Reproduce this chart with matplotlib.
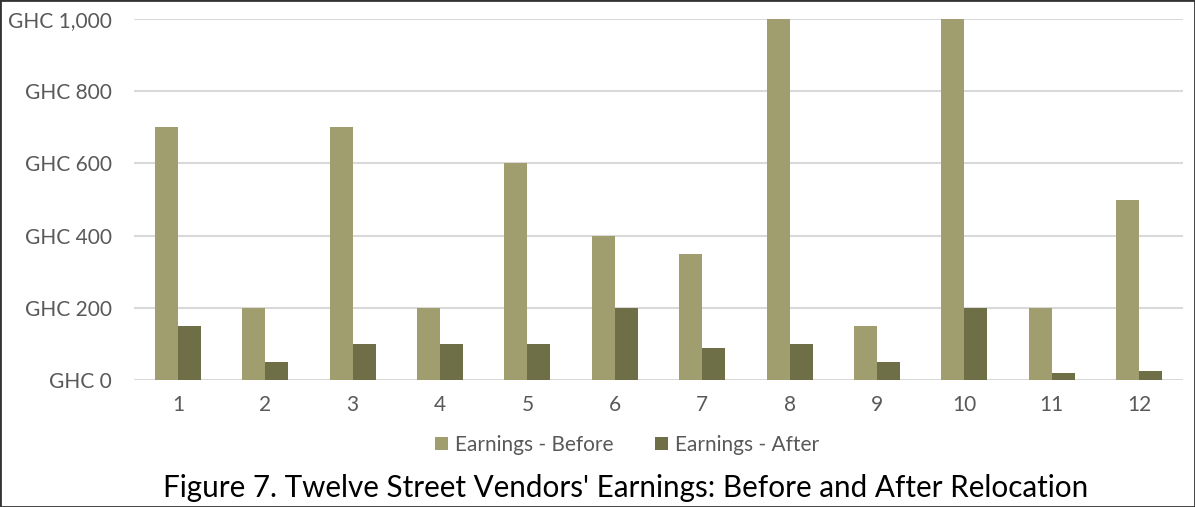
import matplotlib
matplotlib.use("Agg")
import matplotlib.pyplot as plt
import numpy as np
from matplotlib.patches import Rectangle

categories = ["1", "2", "3", "4", "5", "6", "7", "8", "9", "10", "11", "12"]
before = [700, 200, 700, 200, 600, 400, 350, 1000, 150, 1000, 200, 500]
after = [150, 50, 100, 100, 100, 200, 90, 100, 50, 200, 20, 25]
yticks = [0, 200, 400, 600, 800, 1000]
ytick_labels = ["GHC 0", "GHC 200", "GHC 400", "GHC 600", "GHC 800", "GHC 1,000"]

plt.rcParams['font.family'] = ['Lato', 'DejaVu Sans']

fig = plt.figure(figsize=(11.95, 5.07), dpi=100)
ax = fig.add_axes([134.3/1195, 1-380/507, (1182.7-134.3)/1195, (380-19)/507])

x = np.arange(len(categories))
w = 0.263
c_before = "#A09D6F"
c_after = "#6E6F46"
ax.bar(x - w/2, before, w, color=c_before, label="Earnings - Before", zorder=3)
ax.bar(x + w/2, after, w, color=c_after, label="Earnings - After", zorder=3)

ax.set_xlim(-0.5, len(categories) - 0.5)
ax.set_ylim(0, 1000)
ax.set_yticks(yticks)
ax.set_yticklabels(ytick_labels)
ax.set_xticks(x)
ax.set_xticklabels(categories)
ax.tick_params(axis='both', length=0, labelsize=15, colors="#595959")
ax.tick_params(axis='y', pad=16)
ax.tick_params(axis='x', pad=11)
ax.grid(axis='y', color="#D9D9D9", lw=1.5, zorder=0)
for s in ax.spines.values():
    s.set_visible(False)

leg = fig.legend(loc='center', bbox_to_anchor=(627/1195, 1-445/507), ncol=2, frameon=False,
                 fontsize=15, handlelength=0.6, handleheight=0.6, handletextpad=0.35,
                 columnspacing=2.0)
for t in leg.get_texts():
    t.set_color("#595959")

fig.text(625.5/1195, 1-488/507, "Figure 7. Twelve Street Vendors' Earnings: Before and After Relocation",
         ha='center', va='center', fontsize=21.3, color="black")

fig.patches.append(Rectangle((0, 0), 1, 1, transform=fig.transFigure, fill=False,
                             edgecolor="#333333", lw=2))

fig.savefig("out.png", dpi=100)
